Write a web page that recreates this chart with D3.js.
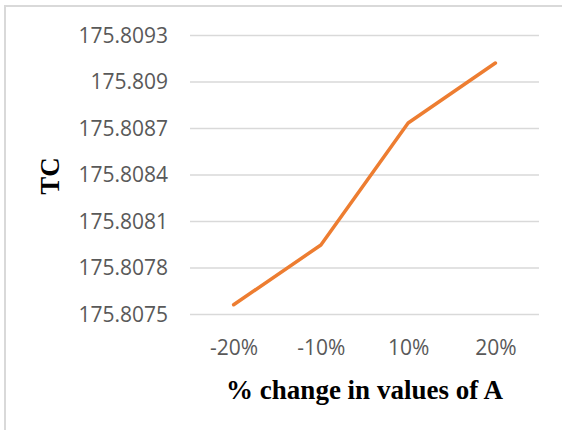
<!DOCTYPE html>
<html>
<head>
<meta charset="utf-8">
<script src="https://cdn.jsdelivr.net/npm/d3@7"></script>
<style>
  body { margin: 0; background: #fff; }
  svg { display: block; }
</style>
</head>
<body>
<div id="chart"></div>
<script>
// données
var categories = ["-20%", "-10%", "10%", "20%"];
var tcValues = [175.80756, 175.807945, 175.808732, 175.809119];
var yTicks = [175.8075, 175.8078, 175.8081, 175.8084, 175.8087, 175.809, 175.8093];
var xTitle = "% change in values of A";
var yTitle = "TC";

var width = 562,
    height = 430,
    svg = d3.select("#chart").append("svg")
      .attr("width", width)
      .attr("height", height);

// zone de tracé
var plotLeft = 190, plotRight = 539, plotTop = 35, plotBottom = 314;

// cadre du graphique (dépasse à droite et en bas)
svg.append("rect")
  .attr("x", 5)
  .attr("y", 6)
  .attr("width", 620)
  .attr("height", 480)
  .attr("fill", "none")
  .attr("stroke", "#d9d9d9")
  .attr("stroke-width", 2);

var x = d3.scalePoint()
  .domain(categories)
  .range([plotLeft, plotRight])
  .padding(0.5);

var y = d3.scaleLinear()
  .domain([yTicks[0], yTicks[yTicks.length - 1]])
  .range([plotBottom, plotTop]);

// axe y : lignes de grille + étiquettes
var yAxis = d3.axisLeft(y)
  .tickValues(yTicks)
  .tickFormat(d3.format(".4~f"))
  .tickSize(-(plotRight - plotLeft))
  .tickPadding(22);

var gy = svg.append("g")
  .attr("transform", "translate(" + plotLeft + ",0)")
  .call(yAxis);
gy.select(".domain").remove();
gy.selectAll(".tick line")
  .attr("stroke", "#d9d9d9")
  .attr("stroke-width", 1.3);
gy.selectAll(".tick text")
  .attr("fill", "#595959")
  .attr("font-family", "'Open Sans', sans-serif")
  .attr("font-size", 21)
  .attr("dy", "0.34em");

// axe x : étiquettes seulement
var xAxis = d3.axisBottom(x)
  .tickSize(0)
  .tickPadding(0);

var gx = svg.append("g")
  .attr("transform", "translate(0," + plotBottom + ")")
  .call(xAxis);
gx.select(".domain").remove();
gx.selectAll(".tick text")
  .attr("fill", "#595959")
  .attr("font-family", "'Open Sans', sans-serif")
  .attr("font-size", 21)
  .attr("dy", null)
  .attr("y", 41);

// courbe
var line = d3.line()
  .x(function(d, i) { return x(categories[i]); })
  .y(function(d) { return y(d); });

svg.append("path")
  .datum(tcValues)
  .attr("d", line)
  .attr("fill", "none")
  .attr("stroke", "#ED7D31")
  .attr("stroke-width", 3.5)
  .attr("stroke-linecap", "round")
  .attr("stroke-linejoin", "round");

// titres des axes
svg.append("text")
  .attr("x", (plotLeft + plotRight) / 2)
  .attr("y", 399)
  .attr("text-anchor", "middle")
  .attr("font-family", "'Liberation Serif', 'Times New Roman', serif")
  .attr("font-weight", "bold")
  .attr("font-size", 27)
  .attr("fill", "#000")
  .text(xTitle);

svg.append("text")
  .attr("transform", "translate(59,176) rotate(-90)")
  .attr("text-anchor", "middle")
  .attr("font-family", "'Liberation Serif', 'Times New Roman', serif")
  .attr("font-weight", "bold")
  .attr("font-size", 27)
  .attr("fill", "#000")
  .text(yTitle);
</script>
</body>
</html>
